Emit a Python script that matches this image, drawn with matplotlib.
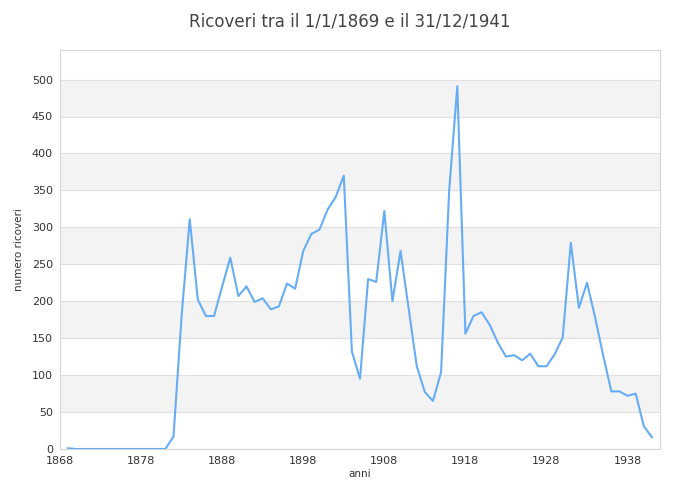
import matplotlib
matplotlib.use('Agg')
import matplotlib.pyplot as plt

# anni e numero di ricoveri
anni = list(range(1869, 1942))
ricoveri = [
    1, 0, 0, 0, 0, 0, 0, 0, 0, 0, 0, 0, 0,       # 1869-1881
    17, 180, 311, 202, 180, 180, 220, 259, 207,  # 1882-1890
    220, 199, 204, 189, 193, 224, 217, 268, 291, # 1891-1899
    297, 324, 341, 370, 132, 95, 230, 226, 322,  # 1900-1908
    200, 268, 190, 112, 77, 65, 104, 350, 491,   # 1909-1917
    156, 180, 185, 168, 144, 125, 127, 120, 129, # 1918-1926
    112, 112, 128, 151, 279, 191, 225, 178, 126, # 1927-1935
    78, 78, 72, 75, 31, 16,                      # 1936-1941
]
x_ticks = list(range(1868, 1940, 10))
y_ticks = list(range(0, 501, 50))

fig = plt.figure(figsize=(7, 5), dpi=100)
ax = fig.add_axes([60/700, 51/500, 600/700, 399/500])

ax.set_xlim(1868, 1942)
ax.set_ylim(0, 540)

# bande alternate
for i, y0 in enumerate(y_ticks[:-1]):
    if i % 2 == 1:
        ax.axhspan(y0, y0 + 50, color='#f3f3f3', zorder=0, lw=0)
for y in y_ticks[1:]:
    ax.axhline(y, color='#e0e0e0', lw=0.8, zorder=1)

ax.plot(anni, ricoveri, color='#66adf5', lw=1.5, zorder=3)

ax.set_xticks(x_ticks)
ax.set_yticks(y_ticks)
ax.tick_params(length=0, labelsize=8, colors='#333333', pad=5)
for s in ax.spines.values():
    s.set_color('#d6d6d6')
    s.set_linewidth(0.8)

ax.set_xlabel('anni', fontsize=7.5, color='#333333', labelpad=2)
ax.set_ylabel('numero ricoveri', fontsize=7.5, color='#333333', labelpad=6)
fig.suptitle('Ricoveri tra il 1/1/1869 e il 31/12/1941', fontsize=12,
             color='#444444', y=0.975)

plt.savefig('out.png', dpi=100)
plt.close()
